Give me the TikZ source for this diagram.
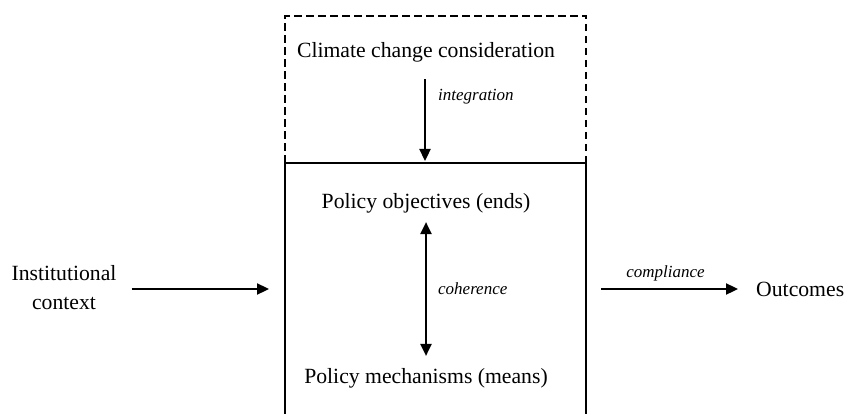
\documentclass[tikz,border=0pt]{standalone}
\usepackage{fontspec}
\setmainfont{Liberation Serif}
\usetikzlibrary{arrows.meta}
\begin{document}
\begin{tikzpicture}[x=1pt,y=-1pt,
  lbl/.style={font=\fontsize{21.7}{29}\selectfont, inner sep=0pt, align=center},
  tag/.style={font=\fontsize{17}{20}\selectfont\itshape, inner sep=0pt},
  link/.style={line width=2.3pt, -{Triangle[length=12pt,width=11pt]}},
  twoway/.style={line width=2.3pt, {Triangle[length=12pt,width=11pt]}-{Triangle[length=12pt,width=11pt]}},
  boxline/.style={line width=2.5pt}]
\useasboundingbox (0,0) rectangle (845,414);

% dashed frame above the policy box
\draw[boxline, dash pattern=on 7.5pt off 4.5pt] (285,163) -- (285,16) -- (586,16) -- (586,163);
% policy box, open at the bottom
\draw[boxline] (285,414) -- (285,163) -- (586,163) -- (586,414);
\coordinate (coretop) at (425,161);
\coordinate (coreL) at (285,289);
\coordinate (coreR) at (586,289);

% texts
\node[lbl] (climate) at (426,52) {Climate change consideration};
\node[lbl] (ends) at (426,203) {Policy objectives (ends)};
\node[lbl] (means) at (426,378) {Policy mechanisms (means)};
\node[lbl] (inst) at (64,288) {Institutional\\context};
\node[lbl, anchor=west] (out) at (756,289) {Outcomes};

% connectors
\draw[link] ([yshift=-17pt]climate.south -| coretop) -- (coretop)
  node[tag, pos=0.22, anchor=west, xshift=12pt] {integration};
\draw[twoway] ([yshift=-9pt]ends.south) -- ([yshift=12pt]means.north)
  node[tag, midway, anchor=west, xshift=11pt] {coherence};
\draw[link] ([xshift=15pt]inst.east |- coreL) -- ([xshift=-16pt]coreL);
\draw[link] ([xshift=15pt]coreR) -- ([xshift=-18pt]out.west |- coreR)
  node[tag, midway, above=7pt, xshift=-4pt] {compliance};
\end{tikzpicture}
\end{document}
